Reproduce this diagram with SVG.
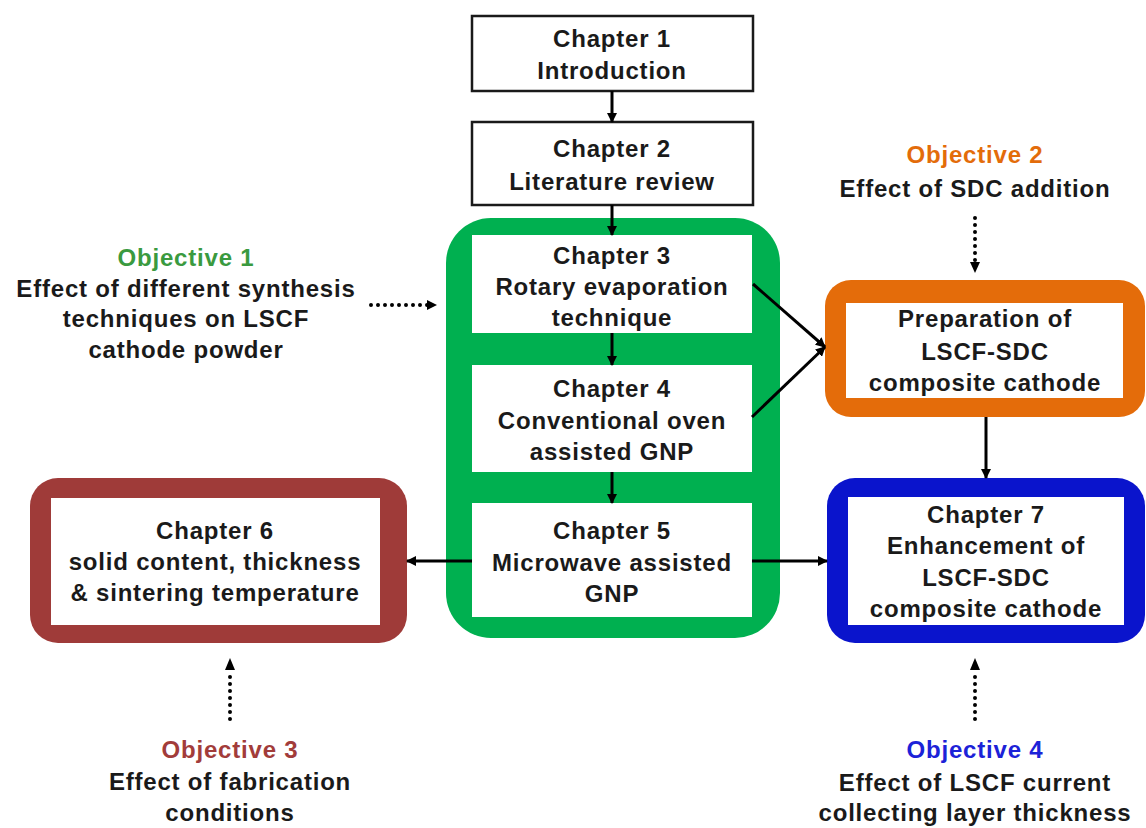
<svg xmlns="http://www.w3.org/2000/svg" width="1146" height="828" viewBox="0 0 1146 828">
<defs>
<marker id="ah" viewBox="0 0 10 10" refX="9" refY="5" markerWidth="10" markerHeight="10" markerUnits="userSpaceOnUse" orient="auto">
<path d="M0,0 L10,5 L0,10 z" fill="#000"/>
</marker>
</defs>
<style>
text{font-family:"Liberation Sans",Arial,sans-serif;font-weight:bold;font-size:24px;letter-spacing:0.8px;text-anchor:middle;fill:#1a1a1a}
.box{fill:#fff;stroke:#1a1a1a;stroke-width:2.5}
.in{fill:#fff}
.conn{stroke:#000;stroke-width:3;fill:none;marker-end:url(#ah)}
.dot{stroke:#000;stroke-width:4;fill:none;stroke-dasharray:0 7;stroke-linecap:round}
.g{fill:#3a9a3f}.o{fill:#e36c0a}.r{fill:#a23c3a}.b{fill:#1c22d8}
</style>
<rect width="1146" height="828" fill="#fff"/>

<g id="ch1">
<rect class="box" x="472" y="16" width="281" height="75"/>
<text x="612" y="47">Chapter 1</text>
<text x="612" y="79">Introduction</text>
</g>
<g id="ch2">
<rect class="box" x="472" y="122" width="281" height="83"/>
<text x="612" y="157">Chapter 2</text>
<text x="612" y="190">Literature review</text>
</g>

<g id="green-group">
<rect x="446" y="218" width="334" height="420" rx="45" fill="#00b050"/>
</g>
<g id="ch3">
<rect class="in" x="472" y="235" width="280" height="98"/>
<text x="612" y="264">Chapter 3</text>
<text x="612" y="295">Rotary evaporation</text>
<text x="612" y="326">technique</text>
</g>
<g id="ch4">
<rect class="in" x="472" y="365" width="280" height="107"/>
<text x="612" y="397">Chapter 4</text>
<text x="612" y="429">Conventional oven</text>
<text x="612" y="460">assisted GNP</text>
</g>
<g id="ch5">
<rect class="in" x="472" y="503" width="280" height="114"/>
<text x="612" y="539">Chapter 5</text>
<text x="612" y="571">Microwave assisted</text>
<text x="612" y="602">GNP</text>
</g>

<g id="prep">
<rect x="825" y="280" width="320" height="137" rx="26" fill="#e46c0a"/>
<rect class="in" x="846" y="303" width="277" height="95"/>
<text x="985" y="327">Preparation of</text>
<text x="985" y="360">LSCF-SDC</text>
<text x="985" y="391">composite cathode</text>
</g>

<g id="ch6">
<rect x="30" y="478" width="377" height="165" rx="28" fill="#9f3b39"/>
<rect class="in" x="51" y="498" width="329" height="127"/>
<text x="215" y="539">Chapter 6</text>
<text x="215" y="570">solid content, thickness</text>
<text x="215" y="601">&amp; sintering temperature</text>
</g>

<g id="ch7">
<rect x="827" y="478" width="318" height="165" rx="28" fill="#0a14cc"/>
<rect class="in" x="848" y="497" width="276" height="128"/>
<text x="986" y="523">Chapter 7</text>
<text x="986" y="554">Enhancement of</text>
<text x="986" y="586">LSCF-SDC</text>
<text x="986" y="617">composite cathode</text>
</g>

<g id="obj1">
<text class="g" x="186" y="266">Objective 1</text>
<text x="186" y="297">Effect of different synthesis</text>
<text x="186" y="327">techniques on LSCF</text>
<text x="186" y="358">cathode powder</text>
</g>
<g id="obj2">
<text class="o" x="975" y="163">Objective 2</text>
<text x="975" y="197">Effect of SDC addition</text>
</g>
<g id="obj3">
<text class="r" x="230" y="758">Objective 3</text>
<text x="230" y="790">Effect of fabrication</text>
<text x="230" y="821">conditions</text>
</g>
<g id="obj4">
<text class="b" x="975" y="758">Objective 4</text>
<text x="975" y="791">Effect of LSCF current</text>
<text x="975" y="821">collecting layer thickness</text>
</g>

<g id="connectors">
<line class="conn" x1="612" y1="91" x2="612" y2="122"/>
<line class="conn" x1="612" y1="205" x2="612" y2="235"/>
<line class="conn" x1="612" y1="333" x2="612" y2="365"/>
<line class="conn" x1="612" y1="472" x2="612" y2="503"/>
<line class="conn" x1="753" y1="284" x2="825" y2="347"/>
<line class="conn" x1="752" y1="417" x2="825" y2="347"/>
<line class="conn" x1="986" y1="417" x2="986" y2="478"/>
<line class="conn" x1="472" y1="561" x2="407" y2="561"/>
<line class="conn" x1="752" y1="561" x2="827" y2="561"/>
<line class="dot" x1="371" y1="305" x2="428" y2="305"/>
<path d="M427,300 L437,305 L427,310 z" fill="#000"/>
<line class="dot" x1="975" y1="218" x2="975" y2="262"/>
<path d="M970,262 L975,273 L980,262 z" fill="#000"/>
<line class="dot" x1="230" y1="719" x2="230" y2="670"/>
<path d="M225,670 L230,658 L235,670 z" fill="#000"/>
<line class="dot" x1="975" y1="719" x2="975" y2="670"/>
<path d="M970,670 L975,658 L980,670 z" fill="#000"/>
</g>
</svg>
